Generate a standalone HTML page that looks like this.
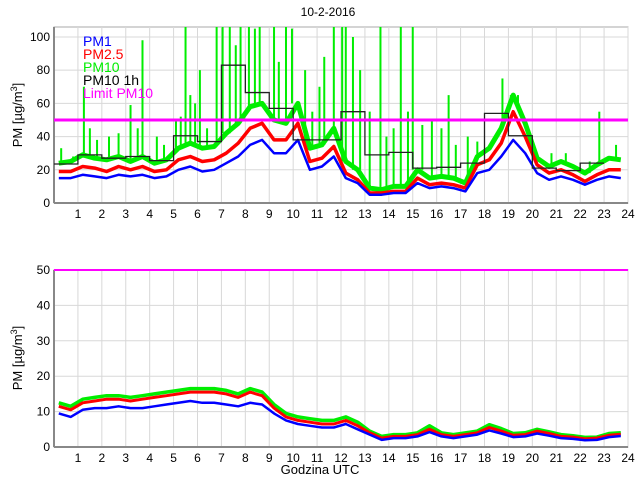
<!DOCTYPE html>
<html><head><meta charset="utf-8"><style>
body{margin:0;background:#fff;}
svg{display:block;font-family:"Liberation Sans",sans-serif;}
</style></head><body>
<svg id="c" width="640" height="480" viewBox="0 0 640 480">
<text x="328" y="16" font-size="12" text-anchor="middle">10-2-2016</text>
<text x="22" y="115" font-size="13" text-anchor="middle" transform="rotate(-90 22 115)">PM [µg/m<tspan dy="-5" font-size="9">3</tspan><tspan dy="5">]</tspan></text>
<text x="22" y="358" font-size="13" text-anchor="middle" transform="rotate(-90 22 358)">PM [µg/m<tspan dy="-5" font-size="9">3</tspan><tspan dy="5">]</tspan></text>
<text x="320" y="474" font-size="13" text-anchor="middle">Godzina UTC</text>
<g id="top"></g>
<g id="bot"></g>
<g font-size="14">
<text x="83" y="46" fill="#0000ff">PM1</text>
<text x="83" y="59" fill="#ff0000">PM2.5</text>
<text x="83" y="72" fill="#00ee00">PM10</text>
<text x="83" y="85" fill="#000">PM10 1h</text>
<text x="83" y="98" fill="#ff00ff">Limit PM10</text>
</g>
</svg>
<script>
const hoursTicks=[1,2,3,4,5,6,7,8,9,10,11,12,13,14,15,16,17,18,19,20,21,22,23,24];
const topYTicks=[0,20,40,60,80,100];
const botYTicks=[0,10,20,30,40,50];
const p1T=[15,15,17,16,15,17,16,17,15,16,20,22,19,20,24,28,35,38,30,30,38,20,22,28,15,12,5,5,6,6,12,9,10,9,7,18,20,28,38,30,18,14,16,14,11,14,16,15];
const p25T=[19,19,22,21,19,22,20,22,19,20,26,28,25,26,30,36,45,48,38,38,48,25,27,34,18,14,6,6,7,7,15,11,12,11,9,23,26,36,55,40,23,18,20,17,13,17,20,20];
const p10T=[24,25,29,27,26,28,25,28,24,26,33,36,33,34,42,48,58,60,50,48,60,33,35,45,25,20,9,8,10,10,20,15,16,15,12,28,33,45,65,48,27,22,25,22,18,23,27,26];
const spikeHours=[0.3,0.8,1.25,1.5,1.8,2.3,2.7,3.2,3.5,3.7,4.3,4.6,5.1,5.3,5.5,5.7,5.9,6.1,6.4,6.8,7.05,7.35,7.6,7.8,8.15,8.4,8.6,9.2,9.4,9.7,9.95,10.5,10.8,11.1,11.3,11.7,12.05,12.2,12.5,12.8,13.2,13.65,13.9,14.2,14.5,14.8,15,15.4,15.8,16.2,16.5,16.8,17.3,17.7,18.75,19.1,19.4,20.8,21.4,22.4,22.8,23.5];
const spikeVals=[33,28,70,45,38,40,42,59,45,98,40,35,50,52,110,65,60,80,45,110,110,110,95,110,110,105,110,110,85,110,105,80,55,70,88,110,110,110,100,80,55,110,40,45,110,55,110,47,50,45,65,35,40,37,75,62,58,30,30,25,55,35];
const hourly=[23.5,29,27,28,25.5,40.5,37,83,66.5,57,38,38,55,29,30.5,21,21.5,24,54,40.5,21,19.5,24];
const p1B=[9.5,8.5,10.5,11,11,11.5,11,11,11.5,12,12.5,13,12.5,12.5,12,11.5,12.5,12,9.5,7.5,6.5,6,5.5,5.5,6.5,5,3.5,2,2.5,2.5,3,4.2,3,2.5,3,3.5,4.7,3.8,2.8,3,3.8,3.2,2.5,2.3,1.9,2,2.8,3.1];
const p25B=[11.5,10.5,12.5,13,13.5,13.5,13,13.5,14,14.5,15,15.5,15.5,15.5,15,14,15.5,14.5,11,8.5,7.5,7,6.5,6.5,7.5,6,4,2.5,3,3,3.5,5,3.5,3,3.5,4,5.5,4.5,3.3,3.5,4.5,3.8,3,2.8,2.3,2.5,3.3,3.6];
const p10B=[12.5,11.5,13.5,14,14.5,14.5,14,14.5,15,15.5,16,16.5,16.5,16.5,16,15,16.5,15.5,12,9.5,8.5,8,7.5,7.5,8.5,7,4.5,3,3.5,3.5,4,6,4,3.5,4,4.5,6.3,5.2,3.8,4,5,4.3,3.5,3.2,2.7,2.8,3.8,4];
const limit=50;
const NS="http://www.w3.org/2000/svg";
const X0=54,X1=628;
const xs=h=>X0+(X1-X0)*h/24;
function mk(p,tag,a){const e=document.createElementNS(NS,tag);for(const k in a)e.setAttribute(k,a[k]);p.appendChild(e);return e;}
function panel(g,top,bot,ymax,ytop,yticks,series,name){
  const ys=v=>bot-(bot-top)*v/ytop;
  const r=mk(g,'rect',{x:X0,y:top,width:X1-X0,height:bot-top,fill:'none',stroke:'#aaa'});
  
  
  hoursTicks.forEach(h=>{
    const l=mk(g,'line',{x1:xs(h),x2:xs(h),y1:top,y2:bot,stroke:'#d8d8d8'});
    
    
    const t=mk(g,'text',{x:xs(h),y:bot+15,'font-size':12,'text-anchor':'middle'});t.textContent=h;
    
    
  });
  yticks.forEach(v=>{
    const l=mk(g,'line',{x1:X0,x2:X1,y1:ys(v),y2:ys(v),stroke:'#d8d8d8'});
    
    
    const t=mk(g,'text',{x:X0-4,y:ys(v)+4,'font-size':12,'text-anchor':'end'});t.textContent=v;
    
    
  });
  mk(g,'line',{x1:X0,x2:X0,y1:top,y2:bot,stroke:'#888','stroke-width':2});
  mk(g,'line',{x1:X0,x2:X1,y1:bot,y2:bot,stroke:'#888','stroke-width':2});
  const clip=v=>Math.min(v,ytop);
  series.forEach(s=>{
    if(s.spikes){
      s.spikes[0].forEach((h,i)=>{
        const l=mk(g,'line',{x1:xs(h),x2:xs(h),y1:ys(s.base(h)),y2:ys(clip(s.spikes[1][i])),stroke:'#00ee00','stroke-width':2});
        
        
      });
    }
    const d=s.data.map((v,i)=>(i?'L':'M')+xs(i*0.5+0.2).toFixed(1)+' '+ys(clip(v)).toFixed(1)).join(' ');
    const p=mk(g,'path',{d:d,fill:'none',stroke:s.color,'stroke-width':s.w,'stroke-linejoin':'round'});
    
    
  });
  return ys;
}
const topG=document.getElementById('top');
const interp=(arr)=>h=>{const i=Math.min(arr.length-1,Math.max(0,Math.round((h-0.2)/0.5)));return arr[i];};
const ysT=panel(topG,27,203,106,106,topYTicks,[
  {data:p10T,color:'#00ee00',w:5,name:'pm10-line',spikes:[spikeHours,spikeVals],base:interp(p10T)},
  {data:p25T,color:'#ff0000',w:3.5,name:'pm25-line'},
  {data:p1T,color:'#0000ff',w:2.5,name:'pm1-line'}],'top');
let sd='';
hourly.forEach((v,i)=>{sd+=(i?'L':'M')+xs(i)+' '+ysT(v)+' L'+xs(i+1)+' '+ysT(v)+' ';});
const st=mk(topG,'path',{d:sd,fill:'none',stroke:'#222','stroke-width':1.3});


const lt=mk(topG,'line',{x1:X0,x2:X1,y1:ysT(limit),y2:ysT(limit),stroke:'#ff00ff','stroke-width':3});


const botG=document.getElementById('bot');
const ysB=panel(botG,270,447,50,50,botYTicks,[
  {data:p10B,color:'#00ee00',w:3.5,name:'pm10-line-bottom'},
  {data:p25B,color:'#ff0000',w:3,name:'pm25-line-bottom'},
  {data:p1B,color:'#0000ff',w:2.5,name:'pm1-line-bottom'}],'bottom');
const lb=mk(botG,'line',{x1:X0,x2:X1,y1:ysB(limit),y2:ysB(limit),stroke:'#ff00ff','stroke-width':2});


</script>
</body></html>
